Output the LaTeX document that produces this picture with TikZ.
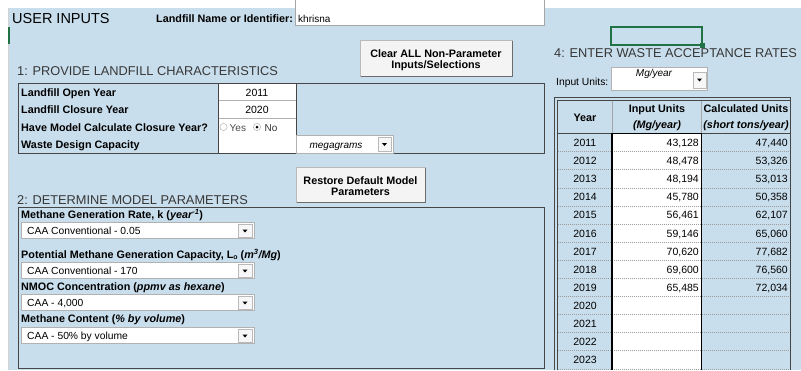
\documentclass[tikz,border=0pt]{standalone}
\usepackage{fontspec}
\setmainfont{Liberation Sans}
\newcommand\fsz[1]{\fontsize{#1}{#1}\selectfont}
\definecolor{bgblue}{RGB}{201,222,236}
\definecolor{xlgreen}{RGB}{33,115,70}
\definecolor{bordr}{RGB}{70,70,70}
\definecolor{hdrtxt}{RGB}{55,55,55}
\begin{document}
\begin{tikzpicture}[x=1pt,y=-1pt,
  lbl/.style={anchor=base west,inner sep=0,font=\fsz{10.8}\bfseries},
  hb/.style={anchor=base,inner sep=0,font=\fsz{10.8}\bfseries},
  sechdr/.style={anchor=base west,inner sep=0,font=\fsz{12.8},text=hdrtxt},
  txt/.style={anchor=base west,inner sep=0,font=\fsz{10.3}},
  ctxt/.style={anchor=base,inner sep=0,font=\fsz{10.5}},
  rtxt/.style={anchor=base east,inner sep=0,font=\fsz{10.5}},
  btnbox/.style={fill=gray!9,draw=gray!55},
  ddbox/.style={fill=white,draw=gray!60},
  arrbtn/.style={fill=gray!6,draw=gray!55},
  rowdot/.style={gray!75,dash pattern=on 1pt off 1pt,line width=0.6pt}]
\useasboundingbox (0,0) rectangle (801,370);
% background
\fill[white] (0,0) rectangle (801,370);
\fill[bgblue] (8,8) rectangle (801,370);
\draw[gray!35] (8.5,8) -- (8.5,370);
\fill[xlgreen] (7.5,27) rectangle (9.5,44);

% title and name
\node[anchor=base west,inner sep=0,font=\fsz{14.5}] (title) at (12,23) {USER INPUTS};
\node[lbl] (namelbl) at (156,22) {Landfill Name or Identifier:};
\fill[white] (295.5,0) rectangle (544.5,25.5);
\draw[gray!70] (295.5,0) -- (295.5,25.5) -- (544.5,25.5) -- (544.5,0);
\node[anchor=base west,inner sep=0,font=\fsz{10}] (nameval) at (298,22) {khrisna};

% selected cell
\draw[xlgreen,line width=1.2pt] (611,27) rectangle (702,45);
\fill[xlgreen] (700,43) rectangle (704.5,47.5);

% clear button
\path[btnbox] (360.5,40.5) rectangle (512,76);
\draw[gray!85!black] (360.5,76) -- (512,76) -- (512,40.5);
\node[hb] (clr1) at (436,57) {Clear ALL Non-Parameter};
\node[hb] (clr2) at (436,68.5) {Inputs/Selections};

% section 1
\node[sechdr] (sec1) at (17,75) {1: PROVIDE LANDFILL CHARACTERISTICS};
\fill[white] (218.5,83.5) rectangle (296,153);
\draw[bordr] (18.5,83.5) rectangle (544.5,153);
\draw[bordr] (218.5,83.5) -- (218.5,153);
\draw[bordr] (296,83.5) -- (296,135);
\draw[gray!60] (218.5,100.5) -- (296,100.5);
\draw[gray!60] (218.5,118) -- (296,118);
\node[lbl] (l1) at (21,96) {Landfill Open Year};
\node[lbl] (l2) at (21,113) {Landfill Closure Year};
\node[lbl] (l3) at (21,131) {Have Model Calculate Closure Year?};
\node[lbl] (l4) at (21,148) {Waste Design Capacity};
\node[ctxt] (v1) at (257,96) {2011};
\node[ctxt] (v2) at (257,113) {2020};
\draw[gray!70,fill=white] (223.5,127) circle (3.6);
\node[anchor=base west,inner sep=0,font=\fsz{10},text=black!70] (ryes) at (229.5,131) {Yes};
\draw[gray!70,fill=white] (257,127) circle (3.6);
\fill[black] (257,127) circle (1.5);
\node[anchor=base west,inner sep=0,font=\fsz{10},text=black!80] (rno) at (264.5,131) {No};
% megagrams dropdown
\path[ddbox] (296,135.5) rectangle (393,153);
\node[anchor=base,inner sep=0,font=\fsz{10}\itshape] (mega) at (336,148) {megagrams};
\path[arrbtn] (378,137.5) rectangle (391,151);
\fill (382,143) -- (387,143) -- (384.5,146) -- cycle;

% restore button
\path[btnbox] (296.5,167.5) rectangle (425,202);
\draw[gray!85!black] (296.5,202) -- (425,202) -- (425,167.5);
\node[hb] (rst1) at (360.5,184) {Restore Default Model};
\node[hb] (rst2) at (360.5,195.5) {Parameters};

% section 2
\node[sechdr] (sec2) at (17,204) {2: DETERMINE MODEL PARAMETERS};
\draw[bordr] (18.5,207.5) rectangle (544.5,368.5);
\node[lbl] (p1) at (21,218) {Methane Generation Rate, k (\textit{year\textsuperscript{-1}})};
\node[lbl] (p2) at (21,258) {Potential Methane Generation Capacity, L\raisebox{-1.5pt}{\fsz{7}o} (\textit{m\textsuperscript{3}/Mg})};
\node[lbl] (p3) at (21,290) {NMOC Concentration (\textit{ppmv as hexane})};
\node[lbl] (p4) at (21,322) {Methane Content (\textit{\% by volume})};
\foreach \yt/\txt [count=\n] in {222/{CAA Conventional - 0.05},262/{CAA Conventional - 170},294/{CAA - 4,000},327/{CAA - 50\% by volume}}{
  \path[ddbox] (21.5,{\yt+0.5}) rectangle (254,{\yt+16.5});
  \node[txt] (dd\n) at (27,{\yt+12}) {\txt};
  \path[arrbtn] (238,{\yt+2}) rectangle (252,{\yt+15});
  \fill (242.5,{\yt+7.5}) -- (247.5,{\yt+7.5}) -- (245,{\yt+10.5}) -- cycle;
}

% section 4
\node[sechdr] (sec4) at (554,57) {4: ENTER WASTE ACCEPTANCE RATES};
\node[txt] (iulbl) at (556,85) {Input Units:};
\path[ddbox] (611.5,67.5) rectangle (707,90);
\node[anchor=base,inner sep=0,font=\fsz{10}\itshape] (iuval) at (654,76) {Mg/year};
\path[arrbtn] (693,72) rectangle (706,88);
\fill (697,78.5) -- (702,78.5) -- (699.5,81.5) -- cycle;

% table
\fill[white] (612,133.5) rectangle (701.5,370);
\foreach \k in {1,...,13}{
  \draw[rowdot] (557.5,{133.5+18.1*\k}) -- (790.5,{133.5+18.1*\k});
}
\draw[bordr] (554.5,370) -- (554.5,97.5) -- (790.5,97.5) -- (790.5,370);
\draw[bordr] (557.5,370) -- (557.5,100.5) -- (790.5,100.5);
\draw[gray!70] (612,100.5) -- (612,133.5);
\draw[gray!70] (701.5,100.5) -- (701.5,133.5);
\draw[bordr] (557.5,133.5) -- (790.5,133.5);
\draw[black,line width=1.6pt] (612,370) -- (612,133.5) -- (701.5,133.5) -- (701.5,370);
\node[hb] (hyear) at (585,121) {Year};
\node[hb] (hin) at (657,112) {Input Units};
\node[hb] (hinu) at (657,128) {\itshape (Mg/year)};
\node[hb] (hcalc) at (746,112) {Calculated Units};
\node[hb] (hcalcu) at (746,128) {\itshape (short tons/year)};
\foreach \yr/\iv/\cv [count=\k from 0] in {2011/{43,128}/{47,440},2012/{48,478}/{53,326},2013/{48,194}/{53,013},2014/{45,780}/{50,358},2015/{56,461}/{62,107},2016/{59,146}/{65,060},2017/{70,620}/{77,682},2018/{69,600}/{76,560},2019/{65,485}/{72,034},2020/{}/{},2021/{}/{},2022/{}/{},2023/{}/{}}{
  \node[ctxt] (yr\k) at (585,{133.5+18.1*\k+13}) {\yr};
  \node[rtxt] (in\k) at (699,{133.5+18.1*\k+13}) {\iv};
  \node[rtxt] (cv\k) at (788,{133.5+18.1*\k+13}) {\cv};
}
\end{tikzpicture}
\end{document}
